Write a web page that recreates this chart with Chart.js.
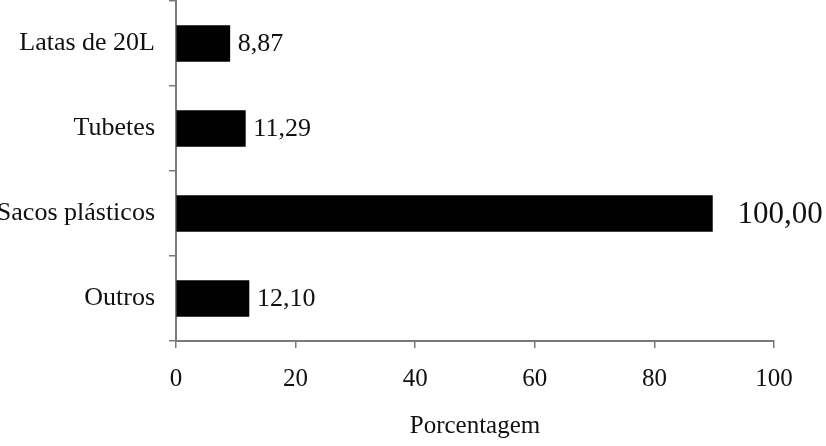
<!DOCTYPE html>
<html>
<head>
<meta charset="utf-8">
<script src="https://cdn.jsdelivr.net/npm/chart.js@4/dist/chart.umd.min.js"></script>
<style>
    html, body { margin: 0; padding: 0; background: #fff; }
    #wrap { width: 826px; height: 446px; }
</style>
</head>
<body>
<div id="wrap"><canvas id="grafico"></canvas></div>
<script>
// dados
const categorias = ['Latas de 20L', 'Tubetes', 'Sacos plásticos', 'Outros'];
const valores = [9.0, 11.6, 89.7, 12.2];
const rotulos = ['8,87', '11,29', '100,00', '12,10'];
const ticksX = [0, 20, 40, 60, 80, 100];

const fonte = '"Liberation Serif", "Times New Roman", serif';
const corEixo = '#7a7a7a';

// escreve o valor na ponta de cada barra
const rotulosBarras = {
    id: 'rotulosBarras',
    afterDatasetsDraw(chart) {
        const ctx = chart.ctx;
        const meta = chart.getDatasetMeta(0);
        ctx.save();
        ctx.fillStyle = '#111';
        ctx.textBaseline = 'middle';
        ctx.textAlign = 'left';
        meta.data.forEach((barra, i) => {
            const grande = i === 2;
            ctx.font = (grande ? 31 : 26) + 'px ' + fonte;
            ctx.fillText(rotulos[i], barra.x + (grande ? 25 : 8), barra.y + 1);
        });
        ctx.restore();
    }
};

const ctx = document.getElementById('grafico').getContext('2d');
new Chart(ctx, {
    type: 'bar',
    data: {
        labels: categorias,
        datasets: [{
            data: valores,
            backgroundColor: '#000',
            borderWidth: 0,
            barThickness: 36
        }]
    },
    options: {
        indexAxis: 'y',
        responsive: true,
        maintainAspectRatio: false,
        animation: false,
        layout: {
            padding: { top: 1, right: 52, bottom: 0, left: 0 }
        },
        plugins: {
            legend: { display: false },
            tooltip: { enabled: false }
        },
        scales: {
            x: {
                min: 0,
                max: 100,
                afterBuildTicks: axis => {
                    axis.ticks = ticksX.map(v => ({ value: v }));
                },
                afterFit: axis => {
                    axis.height = 105;
                },
                grid: {
                    drawOnChartArea: false,
                    drawTicks: true,
                    tickLength: 7,
                    color: corEixo,
                    lineWidth: 1.5
                },
                border: { color: corEixo, width: 2 },
                ticks: {
                    color: '#111',
                    padding: 16,
                    font: { family: fonte, size: 25 }
                },
                title: {
                    display: true,
                    text: 'Porcentagem',
                    color: '#111',
                    padding: { top: 0, bottom: 5 },
                    font: { family: fonte, size: 25 }
                }
            },
            y: {
                afterFit: axis => {
                    axis.width = 176;
                    axis.paddingTop = 0;
                    axis.paddingBottom = 0;
                },
                grid: {
                    offset: true,
                    drawOnChartArea: false,
                    drawTicks: true,
                    tickLength: 7,
                    color: corEixo,
                    lineWidth: 1.5
                },
                border: { color: corEixo, width: 2 },
                ticks: {
                    color: '#111',
                    padding: 14,
                    font: { family: fonte, size: 26 }
                }
            }
        }
    },
    plugins: [rotulosBarras]
});
</script>
</body>
</html>
